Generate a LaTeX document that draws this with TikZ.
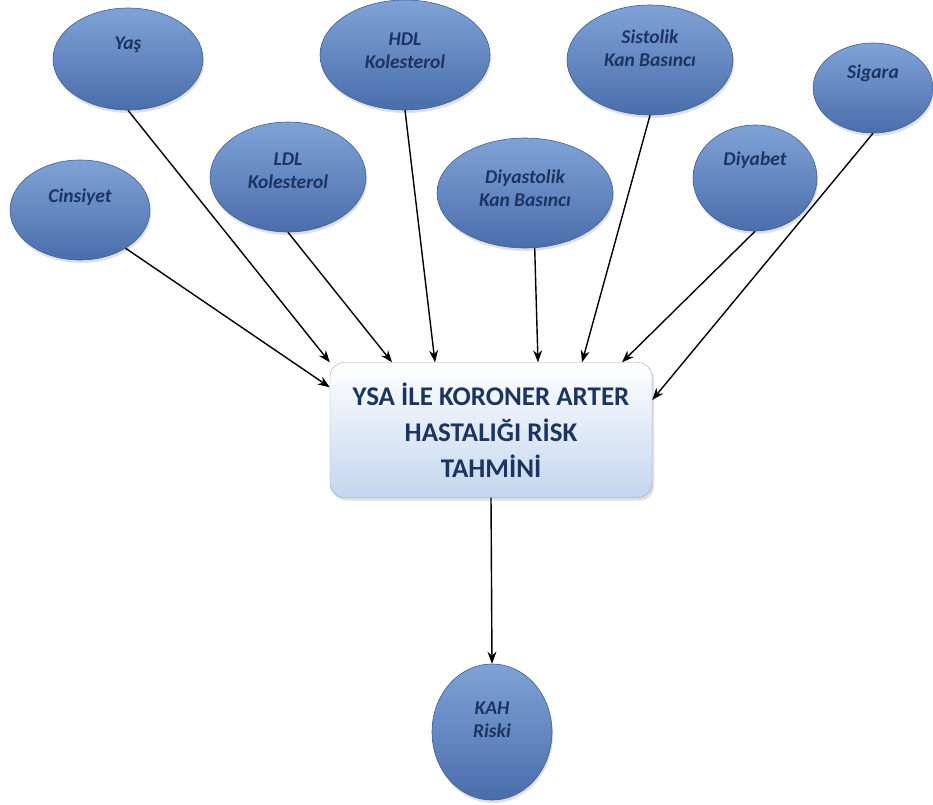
\documentclass[tikz,border=0pt]{standalone}
\usepackage{fontspec}
\setmainfont{Carlito}
\usepackage{xcolor}
\usepackage{tikz}
\usetikzlibrary{positioning,arrows.meta,shapes.geometric,shadows}
\definecolor{elltop}{HTML}{7FA2D6}
\definecolor{ellmid}{HTML}{9BB8E4}
\definecolor{ellbot}{HTML}{4A6EAB}
\definecolor{ellline}{HTML}{3C5F98}
\definecolor{navy}{HTML}{1C3461}
\definecolor{boxbot}{HTML}{C3D6EE}
\definecolor{boxline}{HTML}{8FA9CC}

\begin{document}
\begin{tikzpicture}[x=1pt,y=-1pt,
  inp/.style={ellipse,draw=ellline,semithick,top color=elltop,middle color=ellmid,bottom color=ellbot,inner sep=0pt,font=\fontsize{19.5}{23}\selectfont\bfseries\itshape,text=navy,align=center,drop shadow={opacity=0.25,shadow xshift=1pt,shadow yshift=-3pt}},
  tbox/.style={rectangle,draw=boxline,rounded corners=14pt,top color=white,bottom color=boxbot,minimum width=322pt,minimum height=135pt,font=\fontsize{27}{36}\selectfont\bfseries,text=navy,align=center,drop shadow={opacity=0.25,shadow xshift=2pt,shadow yshift=-3pt}},
  arr/.style={-{Stealth[length=12pt,width=9pt]},line width=1.4pt}]
  \useasboundingbox (0,0) rectangle (933,804);
  \node[tbox](box) at (491,430){YSA İLE KORONER ARTER\\HASTALIĞI RİSK\\TAHMİNİ};
  \node[inp,minimum width=140pt,minimum height=100pt,text depth=29pt](cins) at (80,210){Cinsiyet};
  \node[inp,minimum width=150pt,minimum height=102pt,text depth=31pt](yas) at (128,59){Yaş};
  \node[inp,minimum width=156pt,minimum height=110pt,text depth=13pt](ldl) at (288,177){LDL\\Kolesterol};
  \node[inp,minimum width=170pt,minimum height=110pt,text depth=9pt](hdl) at (405,55){HDL\\Kolesterol};
  \node[inp,minimum width=176pt,minimum height=110pt,text depth=9pt](dia) at (525,193){Diyastolik\\Kan Basıncı};
  \node[inp,minimum width=166pt,minimum height=110pt,text depth=23pt](sis) at (650,60){Sistolik\\Kan Basıncı};
  \node[inp,minimum width=124pt,minimum height=106pt,text depth=39pt](diy) at (755,178){Diyabet};
  \node[inp,minimum width=120pt,minimum height=90pt,text depth=33pt](sig) at (873,88){Sigara};
  \node[inp,minimum width=120pt,minimum height=136pt,text depth=25pt](kah) at (492,732){KAH\\Riski};
  \draw[arr](cins.-40)--([yshift=-25pt]box.north west);
  \draw[arr](yas.south)--(box.north west);
  \draw[arr](ldl.south)--([xshift=-99pt]box.north);
  \draw[arr](hdl.south)--([xshift=-56pt]box.north);
  \draw[arr](dia.-80)--([xshift=47pt]box.north);
  \draw[arr](sis.south)--([xshift=91pt]box.north);
  \draw[arr](diy.south)--([xshift=131pt]box.north);
  \draw[arr](sig.south)--([yshift=30pt]box.east);
  \draw[arr](box.south)--(kah.north);
\end{tikzpicture}
\end{document}
